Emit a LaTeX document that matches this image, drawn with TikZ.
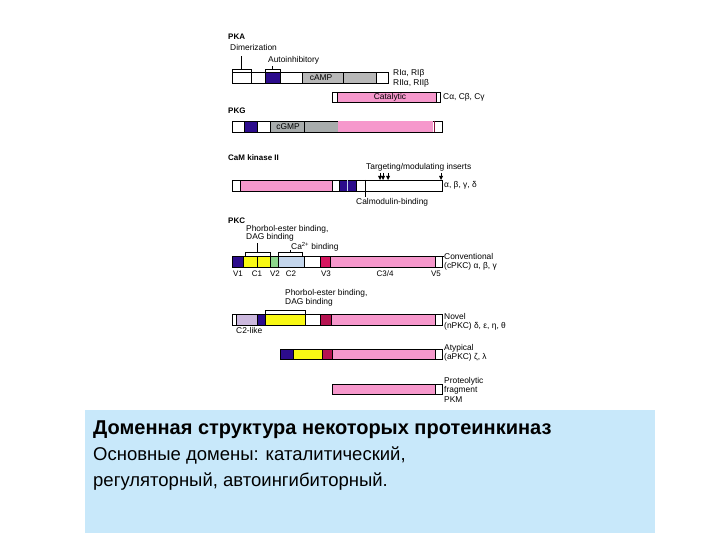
\documentclass[tikz,border=0pt]{standalone}
\usepackage{fontspec}
\setmainfont{Liberation Sans}
\definecolor{dblue}{RGB}{44,12,140}
\definecolor{cgray}{RGB}{184,184,184}
\definecolor{ggray}{RGB}{168,172,172}
\definecolor{kpink}{RGB}{246,152,204}
\definecolor{kyel}{RGB}{248,248,20}
\definecolor{kgreen}{RGB}{140,214,140}
\definecolor{klblue}{RGB}{196,214,236}
\definecolor{kmag}{RGB}{214,24,96}
\definecolor{klav}{RGB}{204,184,222}
\definecolor{boxblue}{RGB}{200,232,250}
\newcommand\bseg[5]{\filldraw[fill=#5,draw=black,line width=0.45pt] (#1,#2) rectangle (#3,#4);}
\newcommand\tri[2]{\draw[line width=0.5pt] (#1,#2) -- (#1,#2+4); \fill (#1-2,#2+3) -- (#1+2,#2+3) -- (#1,#2+7) -- cycle;}
\begin{document}
\begin{tikzpicture}[x=1pt,y=-1pt,
  lbl/.style={font=\fontsize{8.4}{9}\selectfont, inner sep=0pt, anchor=base west},
  hdr/.style={font=\fontsize{8}{9}\selectfont\bfseries, inner sep=0pt, anchor=base west},
  blbl/.style={font=\fontsize{8}{9}\selectfont, inner sep=0pt, anchor=base},
  brk/.style={line width=0.5pt}]
\useasboundingbox (0,0) rectangle (720,540);
\fill[white] (0,0) rectangle (720,540);

% ---------- PKA ----------
\node[hdr] (pka) at (228,40) {PKA};
\node[lbl] (dim) at (230,51) {Dimerization};
\node[lbl] (auto) at (268,63) {Autoinhibitory};
\draw[brk] (232,72) -- (232,69) -- (251,69) -- (251,72);
\draw[brk] (241,69) -- (241,56);
\draw[brk] (265,72) -- (265,69) -- (280,69) -- (280,72);
\draw[brk] (272,69) -- (272,66);
\bseg{232}{72}{251}{83}{white}
\bseg{251}{72}{265}{83}{white}
\bseg{265}{72}{280}{83}{dblue}
\bseg{280}{72}{302}{83}{white}
\bseg{302}{72}{343}{83}{cgray}
\bseg{343}{72}{376}{83}{cgray}
\bseg{376}{72}{388}{83}{white}
\node[lbl, anchor=center] (camp) at (321,77.5) {cAMP};
\node[lbl] (ri) at (393,76) {RIα, RIβ};
\node[lbl] (rii) at (393,85.5) {RIIα, RIIβ};
\bseg{332}{92}{440}{102}{white}
\bseg{337}{92}{436}{102}{kpink}
\node[lbl, anchor=center] (cat) at (390,97) {Catalytic};
\node[lbl] (cab) at (443,100) {Cα, Cβ, Cγ};

% ---------- PKG ----------
\node[hdr] (pkg) at (228,114) {PKG};
\bseg{232}{121}{442}{132}{white}
\bseg{244}{121}{257}{132}{dblue}
\bseg{270}{121}{304}{132}{ggray}
\bseg{304}{121}{338}{132}{ggray}
\fill[kpink] (338,121.3) rectangle (433,131.7);
\draw[line width=0.8pt, draw=kmag!60!black] (434,121) -- (434,132);
\node[lbl, anchor=center] (cgmp) at (288,126.5) {cGMP};

% ---------- CaM kinase II ----------
\node[hdr] (cam) at (228,161) {CaM kinase II};
\node[lbl] (targ) at (366,170) {Targeting/modulating inserts};
\bseg{232}{180}{442}{191}{white}
\bseg{240}{180}{332}{191}{kpink}
\bseg{339}{180}{356}{191}{dblue}
\draw[line width=0.5pt, draw=klblue] (347,180) -- (347,191);
\draw[line width=0.5pt] (365,180) -- (365,191);
\tri{380}{173}
\tri{383}{173}
\tri{388}{173}
\tri{441}{173}
\draw[brk] (365,191) -- (365,197);
\node[lbl] (calm) at (356,205) {Calmodulin-binding};
\node[lbl] (cabg) at (444,188) {α, β, γ, δ};

% ---------- PKC conventional ----------
\node[hdr] (pkc) at (228,224) {PKC};
\node[lbl] (phor1) at (246,231) {Phorbol-ester binding,};
\node[lbl] (dag1) at (246,240) {DAG binding};
\node[lbl] (ca) at (291,249) {Ca\textsuperscript{2+} binding};
\draw[brk] (245,256) -- (245,252) -- (270,252) -- (270,256);
\draw[brk] (257,252) -- (257,243);
\draw[brk] (278,256) -- (278,252) -- (302,252) -- (302,256);
\draw[brk] (290,252) -- (290,250);
\bseg{232}{256}{243}{267}{dblue}
\bseg{243}{256}{257}{267}{kyel}
\bseg{257}{256}{270}{267}{kyel}
\bseg{270}{256}{278}{267}{kgreen}
\bseg{278}{256}{304}{267}{klblue}
\bseg{304}{256}{320}{267}{white}
\bseg{320}{256}{330}{267}{kmag}
\bseg{330}{256}{435}{267}{kpink}
\bseg{435}{256}{442}{267}{white}
\node[blbl] (v1) at (238,276) {V1};
\node[blbl] (c1) at (257,276) {C1};
\node[blbl] (v2) at (275,276) {V2};
\node[blbl] (c2) at (291,276) {C2};
\node[blbl] (v3) at (326,276) {V3};
\node[blbl] (c34) at (385,276) {C3/4};
\node[blbl] (v5) at (436,276) {V5};
\draw[brk] (442,256) -- (444,256);
\node[lbl] (conv) at (444,259) {Conventional};
\node[lbl] (cpkc) at (444,268.5) {(cPKC) α, β, γ};

% ---------- PKC novel ----------
\node[lbl] (phor2) at (285,295) {Phorbol-ester binding,};
\node[lbl] (dag2) at (285,304.5) {DAG binding};
\draw[brk] (265,314) -- (265,310) -- (305,310) -- (305,314);
\bseg{232}{314}{442}{325}{white}
\bseg{236}{314}{257}{325}{klav}
\bseg{257}{314}{265}{325}{dblue}
\bseg{265}{314}{305}{325}{kyel}
\bseg{320}{314}{331}{325}{kmag!85!black}
\bseg{331}{314}{435}{325}{kpink}
\node[lbl] (c2l) at (236,333) {C2-like};
\node[lbl] (nov) at (444,319) {Novel};
\node[lbl] (npkc) at (444,328.5) {(nPKC) δ, ε, η, θ};

% ---------- PKC atypical ----------
\bseg{280}{349}{442}{359}{white}
\bseg{280}{349}{293}{359}{dblue}
\bseg{293}{349}{322}{359}{kyel}
\bseg{322}{349}{332}{359}{kmag!85!black}
\bseg{332}{349}{435}{359}{kpink}
\node[lbl] (aty) at (444,350) {Atypical};
\node[lbl] (apkc) at (444,359.5) {(aPKC) ζ, λ};

% ---------- PKM ----------
\bseg{332}{384}{442}{394}{white}
\bseg{332}{384}{435}{394}{kpink}
\node[lbl] (prot) at (444,383) {Proteolytic};
\node[lbl] (frag) at (444,392.5) {fragment};
\node[lbl] (pkm) at (444,402) {PKM};

% ---------- caption box ----------
\fill[boxblue] (85,410) rectangle (655,533);
\node[inner sep=0pt, anchor=base west, font=\fontsize{20}{22}\selectfont\bfseries] (t1) at (93,434) {Доменная структура некоторых протеинкиназ};
\node[inner sep=0pt, anchor=base west, font=\fontsize{18.5}{20}\selectfont] (t2) at (93,460) {Основные домены: каталитический,};
\node[inner sep=0pt, anchor=base west, font=\fontsize{18.5}{20}\selectfont] (t3) at (93,486) {регуляторный, автоингибиторный.};
\end{tikzpicture}
\end{document}
